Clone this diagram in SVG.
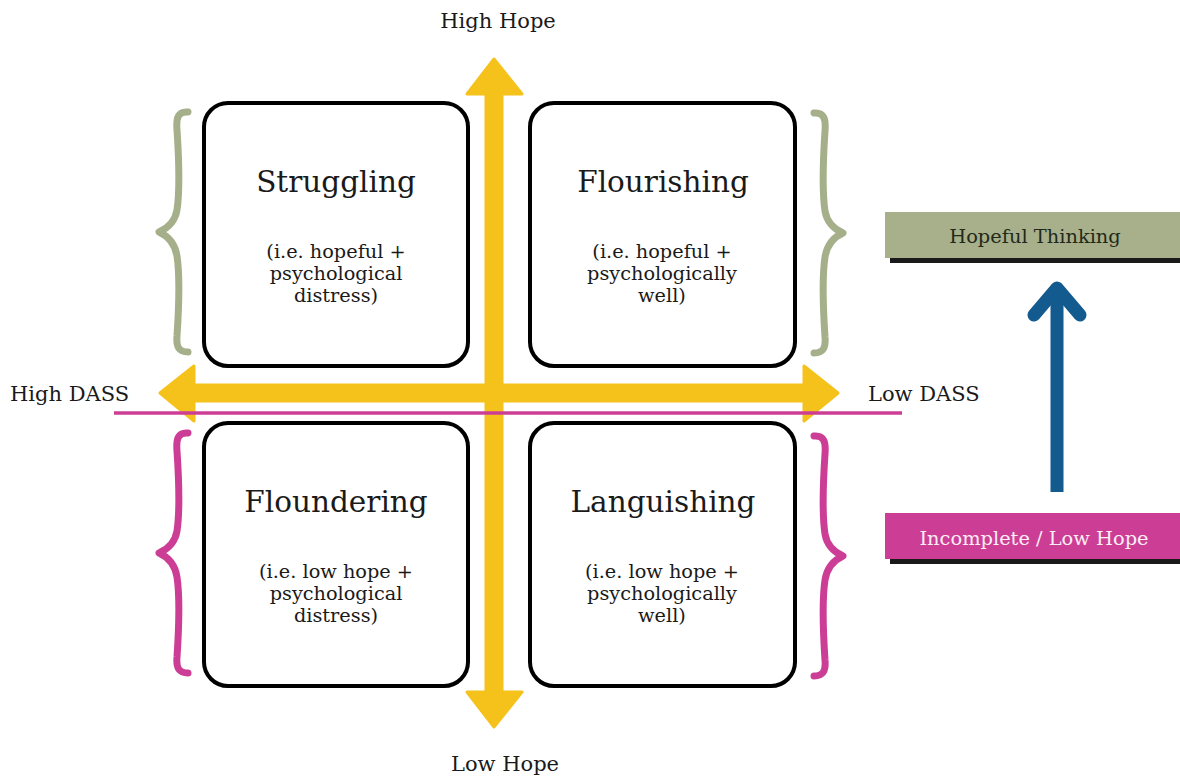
<svg xmlns="http://www.w3.org/2000/svg" width="1180" height="779" viewBox="0 0 1180 779">
<style>
text{font-family:"DejaVu Serif","Liberation Serif",serif;fill:#1a1a1a}
.box{fill:#fff;stroke:#000;stroke-width:4}
.title{font-size:29.5px;text-anchor:middle}
.sub{font-size:19.3px;text-anchor:middle}
.lab{font-size:21px}
.brace{fill:none;stroke-width:7;stroke-linecap:round;stroke-linejoin:round}
.yel{fill:#f5c21b;stroke:#f5c21b;stroke-width:3;stroke-linejoin:round}
</style>
<rect width="1180" height="779" fill="#fff"/>
<g id="connectors">
  <g id="vertical-axis">
    <rect class="yel" x="486" y="90" width="16" height="605"/>
    <polygon class="yel" points="467,94 494,59 522,94"/>
    <polygon class="yel" points="467,692 494,727 522,692"/>
  </g>
  <g id="horizontal-axis">
    <rect class="yel" x="195" y="385" width="612" height="16"/>
    <polygon class="yel" points="194,366 160,393 194,421"/>
    <polygon class="yel" points="804,366 838,393 804,421"/>
  </g>
  <line x1="114" y1="413" x2="902" y2="413" stroke="#cc3e96" stroke-width="3.5"/>
  <g id="blue-arrow" fill="none" stroke="#135a8f" stroke-width="13" stroke-linecap="round" stroke-linejoin="round">
    <line x1="1057" y1="492" x2="1057" y2="292" stroke-linecap="butt"/>
    <polyline points="1034,315 1057,288 1080,315"/>
  </g>
</g>
<g id="braces">
  <path class="brace" stroke="#a5b08a" d="M188,112 C178,111 176,118 177,130 C179,160 180,190 177,210 C175,222 168,228 159,232 C168,236 175,244 177,256 C180,276 179,306 177,336 C176,347 179,352 188,352"/>
  <path class="brace" stroke="#a5b08a" d="M814,113 C824,112 826,119 825,131 C823,161 822,191 825,211 C827,223 834,229 843,233 C834,237 827,245 825,257 C822,277 823,307 825,337 C826,348 823,353 814,353"/>
  <path class="brace" stroke="#cc3e96" d="M188,433 C178,432 176,439 177,451 C179,481 180,511 177,531 C175,543 168,549 159,553 C168,557 175,565 177,577 C180,597 179,627 177,657 C176,668 179,673 188,673"/>
  <path class="brace" stroke="#cc3e96" d="M814,436 C824,435 826,442 825,454 C823,484 822,514 825,534 C827,546 834,552 843,556 C834,560 827,568 825,580 C822,600 823,630 825,660 C826,671 823,676 814,676"/>
</g>
<g id="struggling">
  <rect class="box" x="204" y="103" width="264" height="263" rx="24"/>
  <text class="title" x="336" y="192">Struggling</text>
  <text class="sub" x="336" y="258">(i.e. hopeful +</text>
  <text class="sub" x="336" y="280">psychological</text>
  <text class="sub" x="336" y="302">distress)</text>
</g>
<g id="flourishing">
  <rect class="box" x="530" y="103" width="265" height="263" rx="24"/>
  <text class="title" x="663" y="192">Flourishing</text>
  <text class="sub" x="662" y="258">(i.e. hopeful +</text>
  <text class="sub" x="662" y="280">psychologically</text>
  <text class="sub" x="662" y="302">well)</text>
</g>
<g id="floundering">
  <rect class="box" x="204" y="423" width="264" height="263" rx="24"/>
  <text class="title" x="336" y="512">Floundering</text>
  <text class="sub" x="336" y="578">(i.e. low hope +</text>
  <text class="sub" x="336" y="600">psychological</text>
  <text class="sub" x="336" y="622">distress)</text>
</g>
<g id="languishing">
  <rect class="box" x="530" y="423" width="265" height="263" rx="24"/>
  <text class="title" x="663" y="512">Languishing</text>
  <text class="sub" x="662" y="578">(i.e. low hope +</text>
  <text class="sub" x="662" y="600">psychologically</text>
  <text class="sub" x="662" y="622">well)</text>
</g>
<g id="axis-labels">
  <text class="lab" x="498" y="28" text-anchor="middle">High Hope</text>
  <text class="lab" x="505" y="771" text-anchor="middle">Low Hope</text>
  <text class="lab" x="10" y="401">High DASS</text>
  <text class="lab" x="868" y="401">Low DASS</text>
</g>
<g id="hopeful-thinking">
  <rect x="890" y="257" width="290" height="6" fill="#1a1a1a"/>
  <rect x="885" y="212" width="295" height="46" fill="#a8af8b"/>
  <text x="1035" y="243" font-size="19.4" text-anchor="middle" style="fill:#1f2a1a">Hopeful Thinking</text>
</g>
<g id="low-hope">
  <rect x="890" y="558" width="290" height="6" fill="#1a1a1a"/>
  <rect x="885" y="513" width="295" height="46" fill="#cc3e96"/>
  <text x="1034" y="545" font-size="19.4" text-anchor="middle" style="fill:#fbeef5">Incomplete / Low Hope</text>
</g>
</svg>
